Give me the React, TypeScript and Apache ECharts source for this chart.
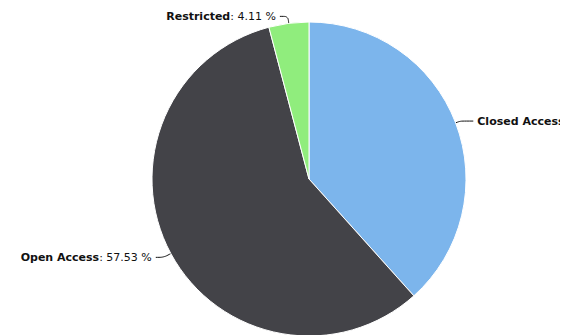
import React, { useEffect, useRef } from "react";
import * as echarts from "echarts";

const categories = ["Closed Access", "Open Access", "Restricted"];
const values = [38.36, 57.53, 4.11];
const colors = ["#7cb5ec", "#434348", "#90ed7d"];
const lineLengths = [[5, 13], [8, 8], [7, 8]];

export default function App() {
  const ref = useRef<HTMLDivElement>(null);
  useEffect(() => {
    const chart = echarts.init(ref.current!, null, { renderer: "svg" });
    chart.setOption({
      animation: false,
      series: [
        {
          type: "pie",
          center: [309, 179],
          radius: [0, 157],
          startAngle: 90,
          clockwise: true,
          avoidLabelOverlap: false,
          data: categories.map((name, i) => ({
            name,
            value: values[i],
            itemStyle: { color: colors[i] },
            labelLine: { length: lineLengths[i][0], length2: lineLengths[i][1] },
          })),
          itemStyle: { borderColor: "#ffffff", borderWidth: 1 },
          label: {
            show: true,
            position: "outside",
            formatter: (p: any) => `{b|${p.name}}{n|: ${p.value.toFixed(2)} %}`,
            color: "#111",
            fontFamily: "DejaVu Sans",
            fontSize: 11,
            distanceToLabelLine: 4,
            rich: {
              b: { fontWeight: "bold", fontSize: 11, color: "#111", fontFamily: "DejaVu Sans" },
              n: { fontWeight: "normal", fontSize: 11, color: "#111", fontFamily: "DejaVu Sans" },
            },
          },
          labelLine: {
            show: true,
            length: 8,
            length2: 8,
            smooth: 0.3,
            lineStyle: { color: "#111", width: 1 },
          },
        },
      ],
    });
    return () => chart.dispose();
  }, []);
  return (
    <div
      ref={ref}
      style={{ position: "absolute", left: 0, top: 0, width: 560, height: 335, overflow: "hidden", background: "#fff" }}
    />
  );
}
